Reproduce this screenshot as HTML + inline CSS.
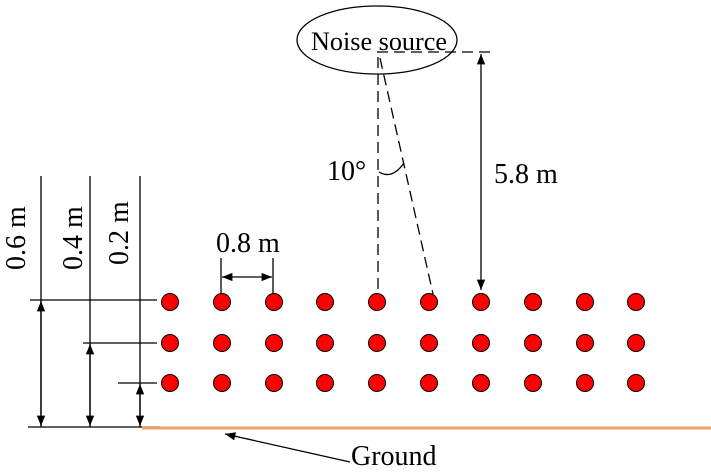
<!DOCTYPE html><html><head><style>body{margin:0;background:#fff}svg{display:block}text{font-family:"Liberation Serif",serif;fill:#000}</style></head><body>
<svg width="711" height="474" viewBox="0 0 711 474" xmlns="http://www.w3.org/2000/svg">
<defs><marker id="a" viewBox="0 0 10 10" refX="10" refY="5" markerWidth="8" markerHeight="8" orient="auto-start-reverse"><path d="M0,1 L10,5 L0,9 z" fill="#000"/></marker></defs>
<g stroke="#000" stroke-width="1.3" fill="none">
<ellipse cx="377" cy="40" rx="80" ry="34"/>
<line x1="377" y1="52" x2="495" y2="52" stroke-dasharray="11,6"/>
<line x1="378" y1="57" x2="378" y2="290" stroke-dasharray="11,6"/>
<line x1="380" y1="58" x2="433" y2="294" stroke-dasharray="11,6"/>
<path d="M379,172 Q392,180 404,163"/>
<line x1="481" y1="54" x2="481" y2="290" marker-start="url(#a)" marker-end="url(#a)"/>
<line x1="41" y1="176" x2="41" y2="427"/>
<line x1="90" y1="176" x2="90" y2="427"/>
<line x1="140" y1="176" x2="140" y2="427"/>
<line x1="30" y1="300" x2="157" y2="300"/>
<line x1="83" y1="343" x2="157" y2="343"/>
<line x1="118" y1="383" x2="157" y2="383"/>
<line x1="28" y1="427" x2="160" y2="427"/>
<line x1="41" y1="301" x2="41" y2="426" marker-start="url(#a)" marker-end="url(#a)"/>
<line x1="90" y1="344" x2="90" y2="426" marker-start="url(#a)" marker-end="url(#a)"/>
<line x1="140" y1="384" x2="140" y2="426" marker-start="url(#a)" marker-end="url(#a)"/>
<line x1="221" y1="258" x2="221" y2="302"/>
<line x1="273" y1="258" x2="273" y2="302"/>
<line x1="222" y1="277" x2="272" y2="277" marker-start="url(#a)" marker-end="url(#a)"/>
<line x1="350" y1="462" x2="225" y2="434" marker-end="url(#a)"/>
</g>
<line x1="142" y1="428" x2="711" y2="428" stroke="#f0a060" stroke-width="3"/>
<g fill="#f00" stroke="#000" stroke-width="1">
<g id="r"><circle cx="170" cy="302" r="8.5"/><circle cx="222" cy="302" r="8.5"/><circle cx="274" cy="302" r="8.5"/><circle cx="325" cy="302" r="8.5"/><circle cx="377" cy="302" r="8.5"/><circle cx="429" cy="302" r="8.5"/><circle cx="481" cy="302" r="8.5"/><circle cx="533" cy="302" r="8.5"/><circle cx="585" cy="302" r="8.5"/><circle cx="636" cy="302" r="8.5"/></g>
<use href="#r" y="41"/><use href="#r" y="81"/>
</g>
<text x="311" y="50" font-size="26" textLength="136" lengthAdjust="spacingAndGlyphs">Noise source</text>
<text x="327" y="180" font-size="28">10°</text>
<text x="494" y="183" font-size="28">5.8 m</text>
<text x="216" y="252" font-size="28">0.8 m</text>
<text x="351" y="465" font-size="28">Ground</text>
<text font-size="28" transform="translate(25,270) rotate(-90)">0.6 m</text>
<text font-size="28" transform="translate(82,270) rotate(-90)">0.4 m</text>
<text font-size="28" transform="translate(128,265) rotate(-90)">0.2 m</text>
</svg></body></html>
